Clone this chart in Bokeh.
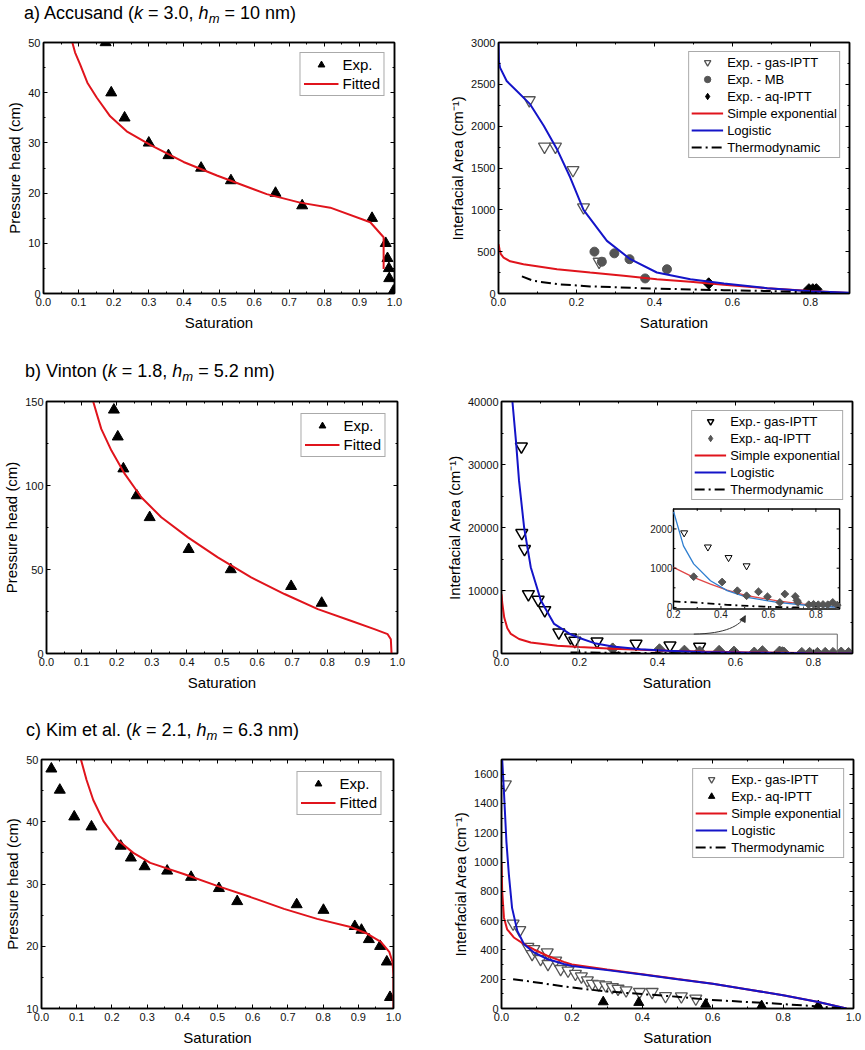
import numpy as np
from bokeh.plotting import figure
from bokeh.layouts import column, row
from bokeh.models import (Div, LinearAxis, SingleIntervalTicker, NumeralTickFormatter,
                          CustomJSTickFormatter, Range1d, Arrow, NormalHead)
from bokeh.core.properties import value
from bokeh.embed import file_html
from bokeh.resources import INLINE

FONT = "Liberation Sans"
RED = "#e0141c"
BLUE = "#1414c8"
GRAY = "#555555"
DASHDOT = "10 4 2 4"

# ---------------- data: a) Accusand ----------------
a_exp_s = [0.177, 0.193, 0.231, 0.300, 0.356, 0.449, 0.534, 0.661, 0.737, 0.936, 0.975, 0.980, 0.984, 0.985, 0.997]
a_exp_h = [50, 40, 35, 30, 27.5, 25, 22.5, 20, 17.5, 15, 10, 7, 5, 3, 0.5]
a_fit_s = [0.079, 0.09, 0.104, 0.125, 0.152, 0.19, 0.237, 0.304, 0.399, 0.494, 0.636, 0.731, 0.817, 0.931, 0.969, 0.969]
a_fit_h = [50.8, 48.0, 45.7, 42.0, 39.0, 35.3, 32.3, 29.6, 26.2, 23.5, 19.8, 18.1, 17.1, 14.2, 11.2, 4.9]

a_gas_s = [0.079, 0.118, 0.146, 0.191, 0.218, 0.258]
a_gas_a = [2310, 1755, 1755, 1475, 1030, 380]
a_mb_s = [0.246, 0.265, 0.297, 0.336, 0.376, 0.432]
a_mb_a = [500, 380, 480, 410, 180, 290]
a_aq_s = [0.539, 0.796, 0.806, 0.815]
a_aq_a = [120, 50, 50, 50]
a_sexp_s = [0.0, 0.003, 0.006, 0.013, 0.03, 0.064, 0.15, 0.235, 0.321, 0.406, 0.492, 0.578, 0.689, 0.8, 0.9]
a_sexp_a = [590, 520, 470, 430, 385, 350, 291, 251, 211, 171, 139, 104, 64, 30, 6]
a_logi_s = [0.0, 0.001, 0.004, 0.021, 0.047, 0.081, 0.116, 0.150, 0.184, 0.218, 0.278, 0.338, 0.406, 0.492, 0.578, 0.689, 0.8, 0.9]
a_logi_a = [3000, 2780, 2700, 2540, 2420, 2263, 2004, 1725, 1386, 1000, 629, 410, 251, 171, 120, 64, 28, 8]
a_thermo_s = [0.06, 0.09, 0.15, 0.235, 0.364, 0.492, 0.578, 0.689, 0.78, 0.85]
a_thermo_a = [205, 151, 112, 85, 64, 48, 40, 30, 15, 4]

# ---------------- data: b) Vinton ----------------
b_exp_s = [0.192, 0.203, 0.219, 0.257, 0.294, 0.405, 0.525, 0.697, 0.784]
b_exp_h = [145, 129, 110, 94, 81, 62, 50, 40, 30]
b_fit_s = [0.133, 0.156, 0.185, 0.223, 0.270, 0.327, 0.403, 0.488, 0.583, 0.678, 0.773, 0.867, 0.934, 0.972, 0.981, 0.983]
b_fit_h = [150, 133.7, 120.8, 106.9, 93.0, 81.1, 69.1, 57.2, 45.3, 35.4, 26.4, 19.5, 14.5, 11.5, 8.5, 0]

b_gas_s = [0.051, 0.052, 0.059, 0.069, 0.094, 0.111, 0.147, 0.177, 0.188, 0.245, 0.345, 0.432, 0.508]
b_gas_a = [32850, 19130, 16580, 9430, 8530, 6890, 3340, 2540, 2010, 1900, 1540, 1270, 1060]
b_aq_s = [0.285, 0.405, 0.469, 0.508, 0.558, 0.596, 0.648, 0.669, 0.713, 0.720, 0.724, 0.77, 0.79, 0.81, 0.83, 0.85, 0.871, 0.89]
b_aq_a = [783, 648, 426, 298, 400, 273, 128, 342, 281, 180, 130, 70, 80, 70, 75, 70, 128, 60]
b_sexp_s = [0.0, 0.002, 0.007, 0.015, 0.024, 0.045, 0.075, 0.143, 0.2, 0.285, 0.356, 0.426, 0.511, 0.638, 0.779, 0.9]
b_sexp_a = [9400, 8000, 5700, 4000, 3100, 2300, 1750, 1220, 1020, 765, 595, 442, 298, 170, 60, 10]
b_logi_s = [0.028, 0.037, 0.045, 0.058, 0.075, 0.101, 0.135, 0.177, 0.2, 0.242, 0.285, 0.356, 0.426, 0.511, 0.638, 0.779, 0.9]
b_logi_a = [40000, 33800, 27400, 20000, 13700, 8400, 4700, 3050, 2450, 1570, 1110, 680, 430, 255, 128, 43, 5]
b_thermo_s = [0.177, 0.2, 0.285, 0.426, 0.553, 0.666, 0.75]
b_thermo_a = [170, 153, 128, 68, 26, 5, 0]
inset_xticks = [0.2, 0.4, 0.6, 0.8]
inset_xminor = [0.3, 0.5, 0.7]
inset_yticks = [0, 1000, 2000]
inset_yminor = [500, 1500]

# ---------------- data: c) Kim et al. ----------------
c_exp_s = [0.028, 0.052, 0.093, 0.142, 0.225, 0.254, 0.293, 0.357, 0.425, 0.504, 0.556, 0.725, 0.801, 0.890, 0.909, 0.930, 0.962, 0.981, 0.990]
c_exp_h = [48.5, 45.1, 40.8, 39.2, 36.1, 34.2, 32.8, 32.1, 31.1, 29.3, 27.2, 26.7, 25.8, 23.2, 22.6, 21.1, 20.0, 17.5, 11.8]
c_fit_s = [0.112, 0.128, 0.147, 0.176, 0.214, 0.261, 0.309, 0.404, 0.499, 0.594, 0.689, 0.783, 0.878, 0.926, 0.964, 0.988, 0.997, 1.0, 1.0]
c_fit_h = [50, 46.7, 43.5, 40.1, 37.2, 35.0, 33.4, 31.6, 29.7, 27.9, 26.0, 24.4, 23.1, 22.0, 20.7, 19.1, 17.5, 15.4, 10]

c_gas_s = [0.011, 0.033, 0.052, 0.075, 0.087, 0.092, 0.111, 0.130, 0.132, 0.154, 0.168, 0.189, 0.210, 0.227,
           0.244, 0.258, 0.276, 0.296, 0.315, 0.331, 0.354, 0.392, 0.428, 0.466, 0.511, 0.552]
c_gas_a = [1530, 580, 535, 421, 372, 406, 338, 383, 304, 327, 270, 259, 237, 219,
           192, 169, 165, 158, 146, 135, 124, 113, 113, 85, 83, 68]
c_aq_s = [0.289, 0.39, 0.58, 0.739, 0.9]
c_aq_a = [45, 41, 29, 18, 18]
c_sexp_s = [0.0, 0.002, 0.007, 0.016, 0.035, 0.064, 0.092, 0.13, 0.177, 0.2, 0.3, 0.4, 0.5, 0.6, 0.7, 0.8, 0.9, 0.98]
c_sexp_a = [1000, 800, 620, 541, 485, 439, 403, 360, 318, 300, 266, 234, 201, 169, 130, 90, 45, 0]
c_logi_s = [0.002, 0.007, 0.014, 0.021, 0.03, 0.045, 0.064, 0.092, 0.13, 0.177, 0.2, 0.3, 0.4, 0.5, 0.6, 0.7, 0.8, 0.9, 0.98]
c_logi_a = [1700, 1476, 1138, 913, 687, 530, 439, 383, 338, 304, 290, 262, 232, 200, 169, 130, 90, 45, 0]
c_thermo_s = [0.033, 0.1, 0.177, 0.291, 0.39, 0.5, 0.587, 0.7, 0.776, 0.9, 0.964]
c_thermo_a = [200, 178, 150, 118, 100, 80, 60, 44, 34, 14, 2]


def mirror_axis(p, loc, interval):
    ax = LinearAxis(ticker=SingleIntervalTicker(interval=interval, num_minor_ticks=2),
                    formatter=CustomJSTickFormatter(code="return ''"))
    ax.major_label_text_font_size = "1px"
    ax.major_label_standoff = 0
    ax.axis_line_width = 1.5
    ax.major_tick_in = 4
    ax.major_tick_out = 0
    ax.minor_tick_in = 2
    ax.minor_tick_out = 0
    p.add_layout(ax, loc)


def make_fig(width, height, xr, yr, xint, yint, borders, ylabel, yfmt="0"):
    bl, br, bt, bb = borders
    p = figure(width=width, height=height, x_range=Range1d(*xr), y_range=Range1d(*yr),
               output_backend="svg", toolbar_location=None, tools="",
               min_border_left=bl, min_border_right=br, min_border_top=bt, min_border_bottom=bb)
    p.grid.visible = False
    p.outline_line_color = "black"
    p.outline_line_width = 1.5
    p.xaxis.ticker = SingleIntervalTicker(interval=xint, num_minor_ticks=2)
    p.yaxis.ticker = SingleIntervalTicker(interval=yint, num_minor_ticks=2)
    p.xaxis.formatter = NumeralTickFormatter(format="0.0")
    p.yaxis.formatter = NumeralTickFormatter(format=yfmt)
    for ax in (p.xaxis[0], p.yaxis[0]):
        ax.axis_line_width = 1.5
        ax.major_tick_in = 4
        ax.major_tick_out = 0
        ax.minor_tick_in = 2
        ax.minor_tick_out = 0
        ax.major_label_text_font = FONT
        ax.major_label_text_font_size = "11px"
        ax.major_label_text_color = "#111111"
        ax.axis_label_text_font = FONT
        ax.axis_label_text_font_size = "15px"
        ax.axis_label_text_font_style = "normal"
        ax.axis_label_text_color = "black"
    p.xaxis.major_label_standoff = 4
    p.yaxis.major_label_standoff = 3
    p.xaxis.axis_label_standoff = 5
    p.yaxis.axis_label_standoff = 2
    p.xaxis.axis_label = "Saturation"
    p.yaxis.axis_label = ylabel
    mirror_axis(p, "above", xint)
    mirror_axis(p, "right", yint)
    return p


def style_legend(p, size, glyph_w, lh, margin, padding, spacing):
    lg = p.legend[0]
    lg.location = "top_right"
    lg.label_text_font = FONT
    lg.label_text_font_size = size
    lg.label_text_color = "black"
    lg.glyph_width = glyph_w
    lg.glyph_height = lh
    lg.label_height = lh
    lg.label_standoff = 4
    lg.spacing = spacing
    lg.padding = padding
    lg.margin = margin
    lg.border_line_color = GRAY
    lg.border_line_width = 1.5
    lg.background_fill_color = "white"
    lg.background_fill_alpha = 1


def title_div(html, pad_left):
    inner = (f'<div style="padding-left:{pad_left}px; padding-top:2px; font-family:\'{FONT}\'; '
             f'font-size:18px; line-height:22px; color:black; white-space:nowrap">{html}</div>')
    return Div(text=inner, width=600, height=28, margin=(0, 0, 0, 0))


def diamonds(p, xs, ys, color, label):
    # points drawn as 45-degree squares; the legend entry uses a diamond marker
    # sitting on the first point (hidden inside its square)
    p.scatter(xs, ys, marker="square", angle=np.pi / 4, size=8, color=color)
    p.scatter(xs[:1], ys[:1], marker="diamond", size=11, color=color, legend_label=label)


SUB = '<sub style="font-size:13px; vertical-align:-4px; line-height:0">m</sub>'
YL_LEFT = "Pressure head (cm)"
YL_RIGHT = "Interfacial Area (cm\u207b\u00b9)"

LW, RW = 430, 434

# ---------------- row a ----------------
ta = title_div(f'a) Accusand (<i>k</i> = 3.0, <i>h{SUB}</i> = 10 nm)', 24)
pa1 = make_fig(LW, 330, (0, 1), (0, 50), 0.1, 10, (43, 36, 14, 65), YL_LEFT)
pa1.scatter(a_exp_s, a_exp_h, marker="triangle", size=11, color="black", legend_label="Exp.")
pa1.line(a_fit_s, a_fit_h, line_color=RED, line_width=2, legend_label="Fitted")
style_legend(pa1, "15px", 35, 17, 10, 3, 2)

pa2 = make_fig(RW, 330, (0, 0.9), (0, 3000), 0.2, 500, (68, 15, 14, 65), YL_RIGHT)
pa2.scatter(a_gas_s, a_gas_a, marker="inverted_triangle", size=12, fill_color="white",
            line_color=GRAY, line_width=1.3, legend_label="Exp. - gas-IPTT")
pa2.scatter(a_mb_s, a_mb_a, marker="circle", size=9, color=GRAY, legend_label="Exp. - MB")
diamonds(pa2, a_aq_s, a_aq_a, "black", "Exp. - aq-IPTT")
pa2.line(a_sexp_s, a_sexp_a, line_color=RED, line_width=2, legend_label="Simple exponential")
pa2.line(a_logi_s, a_logi_a, line_color=BLUE, line_width=2, legend_label="Logistic")
pa2.line(a_thermo_s, a_thermo_a, line_color="black", line_width=2, line_dash=DASHDOT, legend_label="Thermodynamic")
style_legend(pa2, "13px", 32, 16, 9, 2, 1)

# ---------------- row b ----------------
tb = title_div(f'b) Vinton (<i>k</i> = 1.8, <i>h{SUB}</i> = 5.2 nm)', 25)
pb1 = make_fig(LW, 331, (0, 1), (0, 150), 0.1, 50, (45, 33, 15, 64), YL_LEFT)
pb1.scatter(b_exp_s, b_exp_h, marker="triangle", size=11, color="black", legend_label="Exp.")
pb1.line(b_fit_s, b_fit_h, line_color=RED, line_width=2, legend_label="Fitted")
style_legend(pb1, "15px", 35, 17, 12, 3, 2)

pb2 = make_fig(RW, 331, (0, 0.9), (0, 40000), 0.2, 10000, (71, 12, 15, 64), YL_RIGHT)
pb2.scatter(b_gas_s, b_gas_a, marker="inverted_triangle", size=12, fill_color="white",
            line_color="black", line_width=1.5, legend_label="Exp.- gas-IPTT")
diamonds(pb2, b_aq_s, b_aq_a, GRAY, "Exp.- aq-IPTT")
pb2.line(b_sexp_s, b_sexp_a, line_color=RED, line_width=2, legend_label="Simple exponential")
pb2.line(b_logi_s, b_logi_a, line_color=BLUE, line_width=2, legend_label="Logistic")
pb2.line(b_thermo_s, b_thermo_a, line_color="black", line_width=2, line_dash=DASHDOT, legend_label="Thermodynamic")
style_legend(pb2, "13px", 32, 16, 9, 2, 1)

# zoom box and arrow
pb2.quad(left=[0.196], right=[0.861], bottom=[-1100], top=[3073], fill_color=None,
         line_color="#666666", line_width=1)
pb2.bezier(x0=[0.493], y0=[3080], x1=[0.625], y1=[5990], cx0=[0.575], cy0=[3150],
           cx1=[0.612], cy1=[4400], line_color="#333333", line_width=1)
pb2.add_layout(Arrow(end=NormalHead(size=6, fill_color="#333333", line_color="#333333"),
                     x_start=0.620, y_start=5400, x_end=0.625, y_end=5990, line_alpha=0))

# inset (sub-coordinates inside main frame)
IX0, IX1, IY0, IY1 = 0.2, 0.9, -40, 2510
sub = pb2.subplot(x_source=Range1d(IX0, IX1), y_source=Range1d(IY0, IY1),
                  x_target=Range1d(0.441, 0.867), y_target=Range1d(7060, 22950))
INSET_W, INSET_H = 166.0, 100.0
dx_px = (IX1 - IX0) / INSET_W
dy_px = (IY1 - IY0) / INSET_H
sub.quad(left=[IX0], right=[IX1], bottom=[IY0], top=[IY1], fill_color="white", line_color="black", line_width=1.5)


def sel(xs, ys):
    xs = np.asarray(xs, float)
    ys = np.asarray(ys, float)
    m = (xs >= IX0) & (xs <= IX1) & (ys <= IY1)
    return xs[m], ys[m]


sx, sy = sel(b_sexp_s, b_sexp_a)
sub.line(sx, sy, line_color="#e04848", line_width=1.3)
sx, sy = sel(b_logi_s, b_logi_a)
sub.line(sx, sy, line_color="#2f7fd0", line_width=1.3)
sx, sy = sel(b_thermo_s, b_thermo_a)
sub.line(sx, sy, line_color="black", line_width=1.8, line_dash="7 4 2 4")
sx, sy = sel(b_gas_s, b_gas_a)
sub.scatter(sx, sy, marker="inverted_triangle", size=7, fill_color="white", line_color="black", line_width=1)
sx, sy = sel(b_aq_s, b_aq_a)
sub.scatter(sx, sy, marker="square", angle=np.pi / 4, size=5.5, color=GRAY)

xt = np.array(inset_xticks, float)
xm = np.array(inset_xminor, float)
yt = np.array(inset_yticks, float)
ym = np.array(inset_yminor, float)
for xs, L in ((xt, 3), (xm, 2)):
    sub.segment(x0=xs, y0=np.full(len(xs), IY0), x1=xs, y1=IY0 + L * dy_px, line_color="black", line_width=1)
    sub.segment(x0=xs, y0=np.full(len(xs), IY1), x1=xs, y1=IY1 - L * dy_px, line_color="black", line_width=1)
for ys, L in ((yt, 3), (ym, 2)):
    sub.segment(x0=np.full(len(ys), IX0), y0=ys, x1=IX0 + L * dx_px, y1=ys, line_color="black", line_width=1)
    sub.segment(x0=np.full(len(ys), IX1), y0=ys, x1=IX1 - L * dx_px, y1=ys, line_color="black", line_width=1)
sub.text(x=xt, y=np.full(len(xt), IY0), text=[f"{v:.1f}" for v in xt], text_align="center",
         text_baseline="top", y_offset=1, text_font=value(FONT), text_font_size="10px", text_color="#222222")
sub.text(x=np.full(len(yt), IX0), y=yt, text=[f"{int(v)}" for v in yt], text_align="right",
         text_baseline="middle", x_offset=-1, text_font=value(FONT), text_font_size="10px", text_color="#222222")

# ---------------- row c ----------------
tc = title_div(f'c) Kim et al. (<i>k</i> = 2.1, <i>h{SUB}</i> = 6.3 nm)', 26)
pc1 = make_fig(LW, 304, (0, 1), (10, 50), 0.1, 10, (41, 37, 14, 38), YL_LEFT)
pc1.scatter(c_exp_s, c_exp_h, marker="triangle", size=11, color="black", legend_label="Exp.")
pc1.line(c_fit_s, c_fit_h, line_color=RED, line_width=2, legend_label="Fitted")
style_legend(pc1, "15px", 35, 17, 12, 3, 2)

pc2 = make_fig(RW, 304, (0, 1), (0, 1700), 0.2, 200, (71, 11, 12, 41), YL_RIGHT)
pc2.scatter(c_gas_s, c_gas_a, marker="inverted_triangle", size=12, fill_color="white",
            line_color=GRAY, line_width=1.3, legend_label="Exp.- gas-IPTT")
pc2.scatter(c_aq_s, c_aq_a, marker="triangle", size=10, color="black", legend_label="Exp.- aq-IPTT")
pc2.line(c_sexp_s, c_sexp_a, line_color=RED, line_width=2, legend_label="Simple exponential")
pc2.line(c_logi_s, c_logi_a, line_color=BLUE, line_width=2, legend_label="Logistic")
pc2.line(c_thermo_s, c_thermo_a, line_color="black", line_width=2, line_dash=DASHDOT, legend_label="Thermodynamic")
style_legend(pc2, "13px", 32, 16, 9, 2, 1)

layout = column(ta, row(pa1, pa2), tb, row(pb1, pb2), tc, row(pc1, pc2))

with open("out.html", "w") as f:
    f.write(file_html(layout, INLINE))
